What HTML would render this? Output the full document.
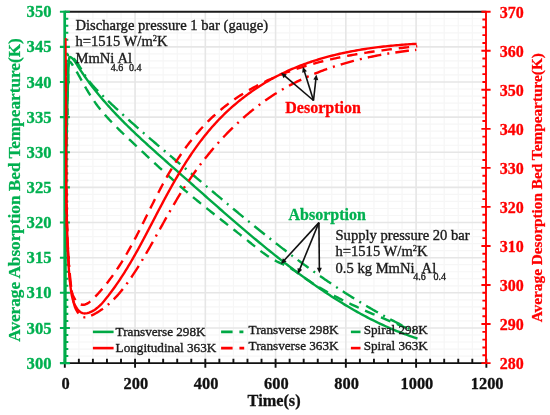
<!DOCTYPE html>
<html><head><meta charset="utf-8"><style>
html,body{margin:0;padding:0;background:#fff;}
svg{display:block;filter:blur(0.3px);}
text{font-family:"Liberation Serif",serif;}
.b{font-weight:bold;}
</style></head><body>
<svg width="550" height="415" viewBox="0 0 550 415">
<rect width="550" height="415" fill="#fff"/>
<path d="M78.85 11.7V363.1M92.9 11.7V363.1M106.96 11.7V363.1M121.01 11.7V363.1M149.11 11.7V363.1M163.16 11.7V363.1M177.22 11.7V363.1M191.27 11.7V363.1M219.37 11.7V363.1M233.42 11.7V363.1M247.48 11.7V363.1M261.53 11.7V363.1M289.63 11.7V363.1M303.68 11.7V363.1M317.74 11.7V363.1M331.79 11.7V363.1M359.89 11.7V363.1M373.94 11.7V363.1M388 11.7V363.1M402.05 11.7V363.1M430.15 11.7V363.1M444.2 11.7V363.1M458.26 11.7V363.1M472.31 11.7V363.1M64.8 356.07H486.36M64.8 349.04H486.36M64.8 342.02H486.36M64.8 334.99H486.36M64.8 320.93H486.36M64.8 313.9H486.36M64.8 306.88H486.36M64.8 299.85H486.36M64.8 285.79H486.36M64.8 278.76H486.36M64.8 271.74H486.36M64.8 264.71H486.36M64.8 250.65H486.36M64.8 243.62H486.36M64.8 236.6H486.36M64.8 229.57H486.36M64.8 215.51H486.36M64.8 208.48H486.36M64.8 201.46H486.36M64.8 194.43H486.36M64.8 180.37H486.36M64.8 173.34H486.36M64.8 166.32H486.36M64.8 159.29H486.36M64.8 145.23H486.36M64.8 138.2H486.36M64.8 131.18H486.36M64.8 124.15H486.36M64.8 110.09H486.36M64.8 103.06H486.36M64.8 96.04H486.36M64.8 89.01H486.36M64.8 74.95H486.36M64.8 67.92H486.36M64.8 60.9H486.36M64.8 53.87H486.36M64.8 39.81H486.36M64.8 32.78H486.36M64.8 25.76H486.36M64.8 18.73H486.36" stroke="#f6f6f6" stroke-width="1.2" fill="none"/>
<path d="M135.06 11.7V363.1M205.32 11.7V363.1M275.58 11.7V363.1M345.84 11.7V363.1M416.1 11.7V363.1M64.8 327.96H486.36M64.8 292.82H486.36M64.8 257.68H486.36M64.8 222.54H486.36M64.8 187.4H486.36M64.8 152.26H486.36M64.8 117.12H486.36M64.8 81.98H486.36M64.8 46.84H486.36" stroke="#e6e6e6" stroke-width="1.6" fill="none"/>
<path d="M64.8 11.7H486.36" stroke="#1a1a1a" stroke-width="2.1"/>
<path d="M64.3 363.1H486.86M64.8 358.8V367.8M78.85 358.8V363.1M92.9 358.8V363.1M106.96 358.8V363.1M121.01 358.8V363.1M135.06 358.8V367.8M149.11 358.8V363.1M163.16 358.8V363.1M177.22 358.8V363.1M191.27 358.8V363.1M205.32 358.8V367.8M219.37 358.8V363.1M233.42 358.8V363.1M247.48 358.8V363.1M261.53 358.8V363.1M275.58 358.8V367.8M289.63 358.8V363.1M303.68 358.8V363.1M317.74 358.8V363.1M331.79 358.8V363.1M345.84 358.8V367.8M359.89 358.8V363.1M373.94 358.8V363.1M388 358.8V363.1M402.05 358.8V363.1M416.1 358.8V367.8M430.15 358.8V363.1M444.2 358.8V363.1M458.26 358.8V363.1M472.31 358.8V363.1M486.36 358.8V367.8" stroke="#111" stroke-width="1.9" fill="none"/>
<path d="M64.7 10.7V364.1" stroke="#00b050" stroke-width="2.7" fill="none"/>
<path d="M59.9 363.1H69.9M64.7 356.07H68.3M64.7 349.04H68.3M64.7 342.02H68.3M64.7 334.99H68.3M59.9 327.96H69.9M64.7 320.93H68.3M64.7 313.9H68.3M64.7 306.88H68.3M64.7 299.85H68.3M59.9 292.82H69.9M64.7 285.79H68.3M64.7 278.76H68.3M64.7 271.74H68.3M64.7 264.71H68.3M59.9 257.68H69.9M64.7 250.65H68.3M64.7 243.62H68.3M64.7 236.6H68.3M64.7 229.57H68.3M59.9 222.54H69.9M64.7 215.51H68.3M64.7 208.48H68.3M64.7 201.46H68.3M64.7 194.43H68.3M59.9 187.4H69.9M64.7 180.37H68.3M64.7 173.34H68.3M64.7 166.32H68.3M64.7 159.29H68.3M59.9 152.26H69.9M64.7 145.23H68.3M64.7 138.2H68.3M64.7 131.18H68.3M64.7 124.15H68.3M59.9 117.12H69.9M64.7 110.09H68.3M64.7 103.06H68.3M64.7 96.04H68.3M64.7 89.01H68.3M59.9 81.98H69.9M64.7 74.95H68.3M64.7 67.92H68.3M64.7 60.9H68.3M64.7 53.87H68.3M59.9 46.84H69.9M64.7 39.81H68.3M64.7 32.78H68.3M64.7 25.76H68.3M64.7 18.73H68.3M59.9 11.7H69.9" stroke="#00b050" stroke-width="2.1" fill="none"/>
<path d="M486 10.7V364.1M481.4 363.1H490.6M481.4 324.06H490.6M481.4 285.01H490.6M481.4 245.97H490.6M481.4 206.92H490.6M481.4 167.88H490.6M481.4 128.83H490.6M481.4 89.79H490.6M481.4 50.74H490.6M481.4 11.7H490.6" stroke="#ff0000" stroke-width="1.9" fill="none"/>
<path d="M482.4 355.29H486M482.4 347.48H486M482.4 339.67H486M482.4 331.86H486M482.4 316.25H486M482.4 308.44H486M482.4 300.63H486M482.4 292.82H486M482.4 277.2H486M482.4 269.39H486M482.4 261.58H486M482.4 253.78H486M482.4 238.16H486M482.4 230.35H486M482.4 222.54H486M482.4 214.73H486M482.4 199.11H486M482.4 191.3H486M482.4 183.5H486M482.4 175.69H486M482.4 160.07H486M482.4 152.26H486M482.4 144.45H486M482.4 136.64H486M482.4 121.02H486M482.4 113.22H486M482.4 105.41H486M482.4 97.6H486M482.4 81.98H486M482.4 74.17H486M482.4 66.36H486M482.4 58.55H486M482.4 42.94H486M482.4 35.13H486M482.4 27.32H486M482.4 19.51H486" stroke="#ff0000" stroke-width="1.9" fill="none"/>
<clipPath id="pc"><rect x="64.8" y="11.7" width="421.56" height="351.4"/></clipPath>
<g clip-path="url(#pc)">
<path d="M66.73 85.05L66.95 84.99L67.12 84.69L67.24 84.16L67.31 83.42L67.34 82.5L67.34 81.41L67.31 80.17L67.25 78.81L67.18 77.34L67.1 75.78L67.01 74.15L66.92 72.47L66.84 70.77L66.76 69.05L66.7 67.35L66.67 65.67L66.66 64.05L66.68 62.5L66.74 61.03L66.85 59.67L67 58.45L67.21 57.37L67.48 56.46L67.82 55.73L68.23 55.22L68.71 54.93L69.28 54.89L69.92 55.07L70.63 55.46L71.38 56.03L72.16 56.74L72.97 57.56L73.78 58.46L74.58 59.42L75.36 60.4L76.12 61.4L76.86 62.41L77.57 63.43L78.27 64.46L78.95 65.49L79.62 66.53L80.27 67.58L80.92 68.63L81.57 69.67L82.2 70.72L82.84 71.77L83.48 72.81L84.12 73.84L84.76 74.87L85.42 75.89L86.08 76.91L86.75 77.91L87.44 78.89L88.15 79.87L88.87 80.83L89.61 81.77L90.36 82.71L91.12 83.63L91.9 84.54L92.69 85.44L93.49 86.33L94.3 87.22L95.11 88.09L95.94 88.96L96.77 89.83L97.61 90.68L98.46 91.53L99.31 92.38L100.16 93.22L101.02 94.06L101.88 94.9L102.74 95.74L103.6 96.57L104.46 97.41L105.32 98.24L106.19 99.07L107.05 99.9L107.92 100.72L108.79 101.55L109.66 102.38L110.53 103.2L111.4 104.02L112.27 104.84L113.15 105.66L114.02 106.48L114.9 107.29L115.78 108.11L116.65 108.92L117.53 109.74L118.41 110.55L119.29 111.36L120.18 112.17L121.06 112.97L121.94 113.78L122.83 114.59L123.72 115.39L124.6 116.2L125.49 117L126.38 117.8L127.27 118.6L128.16 119.4L129.05 120.2L129.94 120.99L130.84 121.79L131.73 122.59L132.63 123.38L133.52 124.17L134.42 124.97L135.31 125.76L136.21 126.55L137.11 127.34L138.01 128.13L138.91 128.92L139.81 129.7L140.71 130.49L141.61 131.28L142.52 132.06L143.42 132.85L144.32 133.63L145.23 134.41L146.13 135.2L147.04 135.98L147.94 136.76L148.85 137.54L149.76 138.32L150.67 139.1L151.57 139.88L152.48 140.66L153.39 141.44L154.3 142.22L155.21 142.99L156.12 143.77L157.03 144.55L157.94 145.32L158.86 146.1L159.77 146.87L160.68 147.65L161.59 148.42L162.51 149.2L163.42 149.97L164.33 150.75L165.25 151.52L166.16 152.29L167.08 153.07L167.99 153.84L168.91 154.61L169.82 155.38L170.74 156.16L171.65 156.93L172.57 157.7L173.48 158.47L174.4 159.25L175.32 160.02L176.23 160.79L177.15 161.56L178.06 162.33L178.98 163.11L179.9 163.88L180.81 164.65L181.73 165.42L182.65 166.2L183.56 166.97L184.48 167.74L185.4 168.51L186.32 169.29L187.23 170.06L188.15 170.83L189.07 171.61L189.98 172.38L190.9 173.16L191.81 173.93L192.73 174.7L193.65 175.48L194.56 176.25L195.48 177.03L196.4 177.8L197.32 178.58L198.23 179.35L199.15 180.13L200.07 180.9L200.98 181.67L201.9 182.45L202.82 183.22L203.73 184L204.65 184.77L205.57 185.55L206.49 186.32L207.4 187.1L208.32 187.87L209.24 188.65L210.16 189.42L211.08 190.19L211.99 190.97L212.91 191.74L213.83 192.51L214.75 193.29L215.67 194.06L216.59 194.83L217.51 195.61L218.43 196.38L219.35 197.15L220.27 197.92L221.19 198.7L222.11 199.47L223.03 200.24L223.95 201.01L224.87 201.78L225.79 202.55L226.72 203.32L227.64 204.09L228.56 204.86L229.48 205.63L230.4 206.4L231.33 207.17L232.25 207.94L233.18 208.71L234.1 209.47L235.02 210.24L235.95 211.01L236.87 211.78L237.8 212.54L238.72 213.31L239.65 214.07L240.58 214.84L241.5 215.6L242.43 216.36L243.36 217.13L244.29 217.89L245.21 218.65L246.14 219.41L247.07 220.17L248 220.93L248.93 221.69L249.86 222.45L250.79 223.21L251.73 223.97L252.66 224.73L253.59 225.48L254.52 226.24L255.45 227L256.39 227.75L257.32 228.51L258.26 229.26L259.19 230.01L260.13 230.76L261.06 231.52L262 232.27L262.94 233.02L263.88 233.76L264.81 234.51L265.75 235.26L266.69 236.01L267.63 236.75L268.57 237.5L269.51 238.24L270.45 238.99L271.4 239.73L272.34 240.47L273.28 241.21L274.23 241.95L275.17 242.69L276.12 243.43L277.06 244.17L278.01 244.91L278.96 245.64L279.9 246.38L280.85 247.11L281.8 247.84L282.75 248.58L283.7 249.31L284.65 250.04L285.6 250.77L286.56 251.49L287.51 252.22L288.46 252.95L289.42 253.67L290.37 254.39L291.33 255.12L292.29 255.84L293.24 256.56L294.2 257.28L295.16 258L296.12 258.71L297.08 259.43L298.04 260.15L299.01 260.86L299.97 261.57L300.93 262.28L301.9 262.99L302.86 263.7L303.83 264.41L304.79 265.12L305.76 265.82L306.73 266.53L307.7 267.23L308.67 267.93L309.64 268.63L310.61 269.33L311.59 270.03L312.56 270.72L313.54 271.42L314.51 272.11L315.49 272.8L316.46 273.49L317.44 274.18L318.42 274.87L319.4 275.56L320.38 276.24L321.37 276.93L322.35 277.61L323.33 278.29L324.32 278.97L325.3 279.65L326.29 280.33L327.28 281L328.27 281.68L329.26 282.35L330.25 283.02L331.24 283.69L332.23 284.36L333.22 285.02L334.22 285.69L335.22 286.35L336.21 287.01L337.21 287.67L338.21 288.33L339.21 288.99L340.21 289.64L341.21 290.29L342.22 290.95L343.22 291.6L344.22 292.24L345.23 292.89L346.24 293.54L347.25 294.18L348.26 294.82L349.27 295.46L350.28 296.1L351.29 296.74L352.31 297.37L353.32 298L354.34 298.63L355.36 299.26L356.38 299.89L357.4 300.52L358.42 301.14L359.44 301.76L360.47 302.38L361.49 303L362.52 303.62L363.54 304.23L364.57 304.84L365.6 305.45L366.63 306.06L367.67 306.67L368.7 307.27L369.73 307.88L370.77 308.48L371.81 309.08L372.85 309.67L373.89 310.27L374.93 310.86L375.97 311.45L377.02 312.04L378.06 312.63L379.11 313.21L380.16 313.8L381.2 314.38L382.26 314.96L383.31 315.53L384.36 316.11L385.42 316.68L386.47 317.25L387.53 317.82L388.59 318.38L389.65 318.95L390.71 319.51L391.77 320.07L392.84 320.63L393.9 321.18L394.97 321.73L396.04 322.28L397.11 322.83L398.18 323.38L399.25 323.92L400.33 324.46L401.4 325L402.48 325.54L403.56 326.07L404.64 326.61L405.72 327.14L406.81 327.66L407.89 328.19L408.98 328.71L410.07 329.23L411.15 329.75L412.25 330.27L413.34 330.78L414.43 331.29" stroke="#00a844" stroke-width="2.4" fill="none" stroke-dasharray="13.5 6 2 6" stroke-dashoffset="17.81" stroke-linejoin="round"/>
<path d="M67.6 115L67.52 113.16L67.46 111.41L67.41 109.76L67.38 108.19L67.35 106.7L67.34 105.28L67.34 103.94L67.35 102.65L67.37 101.42L67.4 100.24L67.43 99.1L67.47 98L67.51 96.94L67.56 95.9L67.62 94.89L67.67 93.89L67.73 92.9L67.79 91.92L67.85 90.94L67.91 89.94L67.96 88.94L68.01 87.92L68.06 86.87L68.11 85.79L68.15 84.68L68.18 83.53L68.21 82.33L68.23 81.08L68.24 79.77L68.24 78.39L68.23 76.94L68.21 75.42L68.18 73.82L68.14 72.15L68.11 70.45L68.11 68.78L68.16 67.19L68.27 65.72L68.47 64.42L68.77 63.34L69.18 62.54L69.67 62.09L70.22 62.05L70.83 62.48L71.46 63.31L72.09 64.26L72.72 65.23L73.35 66.21L73.97 67.21L74.59 68.22L75.21 69.24L75.82 70.27L76.43 71.31L77.04 72.36L77.65 73.42L78.26 74.48L78.87 75.56L79.48 76.64L80.09 77.73L80.7 78.82L81.31 79.92L81.93 81.02L82.54 82.12L83.16 83.22L83.78 84.33L84.41 85.44L85.04 86.55L85.67 87.65L86.31 88.76L86.95 89.86L87.6 90.96L88.26 92.06L88.92 93.15L89.59 94.24L90.26 95.32L90.94 96.39L91.63 97.46L92.33 98.52L93.04 99.57L93.76 100.61L94.48 101.65L95.22 102.67L95.96 103.69L96.71 104.7L97.46 105.71L98.23 106.7L99 107.69L99.78 108.67L100.56 109.65L101.36 110.62L102.15 111.58L102.96 112.53L103.77 113.48L104.59 114.43L105.41 115.37L106.24 116.3L107.07 117.23L107.91 118.15L108.76 119.07L109.61 119.98L110.46 120.89L111.32 121.8L112.18 122.7L113.05 123.59L113.92 124.49L114.8 125.38L115.68 126.26L116.56 127.14L117.44 128.02L118.33 128.9L119.22 129.77L120.12 130.65L121.02 131.51L121.91 132.38L122.82 133.25L123.72 134.11L124.62 134.97L125.53 135.83L126.44 136.69L127.35 137.55L128.26 138.41L129.17 139.26L130.08 140.12L130.99 140.97L131.91 141.83L132.82 142.69L133.73 143.54L134.64 144.4L135.56 145.26L136.47 146.11L137.38 146.97L138.29 147.83L139.21 148.69L140.12 149.54L141.03 150.4L141.95 151.26L142.86 152.12L143.77 152.97L144.69 153.83L145.6 154.69L146.51 155.55L147.43 156.4L148.34 157.26L149.26 158.12L150.17 158.97L151.09 159.83L152 160.68L152.92 161.54L153.84 162.39L154.76 163.25L155.67 164.1L156.59 164.95L157.51 165.8L158.43 166.66L159.35 167.51L160.27 168.36L161.2 169.21L162.12 170.05L163.04 170.9L163.97 171.75L164.89 172.59L165.82 173.44L166.75 174.28L167.67 175.12L168.6 175.96L169.53 176.8L170.46 177.64L171.4 178.48L172.33 179.31L173.26 180.15L174.2 180.98L175.14 181.81L176.07 182.64L177.01 183.47L177.95 184.3L178.89 185.12L179.84 185.94L180.78 186.77L181.73 187.59L182.67 188.41L183.62 189.22L184.57 190.04L185.52 190.85L186.47 191.66L187.43 192.47L188.38 193.28L189.34 194.08L190.3 194.89L191.26 195.69L192.22 196.49L193.18 197.29L194.15 198.08L195.11 198.88L196.08 199.67L197.04 200.46L198.01 201.26L198.98 202.05L199.95 202.83L200.92 203.62L201.9 204.41L202.87 205.19L203.84 205.98L204.82 206.76L205.79 207.54L206.77 208.32L207.75 209.1L208.73 209.88L209.7 210.66L210.68 211.44L211.66 212.21L212.64 212.99L213.62 213.76L214.61 214.54L215.59 215.31L216.57 216.09L217.55 216.86L218.53 217.64L219.52 218.41L220.5 219.18L221.48 219.95L222.47 220.73L223.45 221.5L224.44 222.27L225.42 223.04L226.41 223.82L227.39 224.59L228.37 225.36L229.36 226.14L230.34 226.91L231.33 227.68L232.31 228.46L233.3 229.23L234.28 230L235.26 230.78L236.25 231.55L237.23 232.33L238.21 233.11L239.2 233.88L240.18 234.66L241.16 235.44L242.14 236.22L243.12 237L244.11 237.78L245.09 238.56L246.07 239.34L247.04 240.13L248.02 240.91L249 241.7L249.98 242.48L250.96 243.27L251.93 244.06L252.91 244.85L253.88 245.64L254.86 246.43L255.84 247.21L256.82 247.99L257.8 248.77L258.79 249.55L259.78 250.32L260.77 251.08L261.77 251.84L262.77 252.59L263.78 253.33L264.79 254.06L265.81 254.78L266.84 255.49L267.87 256.19L268.91 256.87L269.96 257.54L271.02 258.2L272.09 258.85L273.17 259.47L274.26 260.09L275.36 260.68L276.47 261.26L277.59 261.81L278.73 262.35L279.87 262.88L281.02 263.4L282.17 263.91L283.32 264.43L284.46 264.96L285.59 265.5L286.72 266.07L287.83 266.66L288.92 267.26L290.01 267.89L291.08 268.54L292.15 269.2L293.21 269.87L294.26 270.56L295.3 271.26L296.34 271.97L297.38 272.68L298.41 273.4L299.43 274.13L300.46 274.86L301.48 275.59L302.51 276.32L303.53 277.05L304.56 277.78L305.59 278.5L306.62 279.21L307.66 279.92L308.7 280.62L309.74 281.32L310.79 282.01L311.84 282.69L312.89 283.37L313.95 284.05L315.01 284.72L316.07 285.38L317.13 286.04L318.2 286.7L319.27 287.35L320.34 287.99L321.41 288.63L322.49 289.26L323.57 289.89L324.65 290.52L325.74 291.14L326.83 291.76L327.92 292.37L329.01 292.97L330.1 293.58L331.2 294.18L332.3 294.77L333.4 295.36L334.5 295.95L335.61 296.53L336.72 297.11L337.83 297.68L338.94 298.26L340.05 298.82L341.17 299.39L342.29 299.95L343.4 300.5L344.53 301.06L345.65 301.61L346.77 302.16L347.9 302.7L349.03 303.24L350.16 303.78L351.29 304.31L352.42 304.85L353.55 305.38L354.69 305.9L355.82 306.43L356.96 306.95L358.1 307.47L359.24 307.98L360.38 308.5L361.53 309.01L362.67 309.52L363.81 310.03L364.96 310.53L366.11 311.04L367.25 311.54L368.4 312.04L369.55 312.54L370.7 313.03L371.85 313.53L373.01 314.02L374.16 314.51L375.31 315L376.47 315.49L377.62 315.98L378.77 316.47L379.93 316.95L381.09 317.43L382.24 317.92L383.4 318.4L384.55 318.88L385.71 319.36L386.87 319.84L388.03 320.32L389.18 320.8L390.34 321.28L391.5 321.76L392.66 322.23L393.81 322.71L394.97 323.19L396.13 323.67L397.29 324.14L398.44 324.62L399.6 325.1L400.76 325.57L401.91 326.05L403.07 326.53L404.22 327.01L405.38 327.48L406.53 327.96L407.69 328.44L408.84 328.92L409.99 329.4L411.14 329.89L412.3 330.37L413.45 330.85L414.6 331.34" stroke="#00a844" stroke-width="2.4" fill="none" stroke-dasharray="10.35 6.9" stroke-dashoffset="3.67" stroke-linejoin="round"/>
<path d="M65.21 372.01L65.22 370.08L65.23 368.15L65.24 366.22L65.25 364.29L65.26 362.37L65.27 360.44L65.28 358.51L65.29 356.58L65.3 354.65L65.31 352.72L65.31 350.8L65.32 348.87L65.33 346.94L65.34 345.01L65.35 343.08L65.35 341.16L65.36 339.23L65.37 337.3L65.37 335.37L65.38 333.45L65.39 331.52L65.39 329.59L65.4 327.66L65.4 325.74L65.41 323.81L65.41 321.88L65.42 319.95L65.43 318.03L65.43 316.1L65.44 314.17L65.44 312.25L65.45 310.32L65.45 308.39L65.46 306.46L65.46 304.54L65.47 302.61L65.47 300.68L65.48 298.76L65.48 296.83L65.49 294.9L65.49 292.98L65.5 291.05L65.5 289.12L65.51 287.2L65.51 285.27L65.52 283.34L65.52 281.42L65.53 279.49L65.53 277.56L65.54 275.64L65.54 273.71L65.55 271.78L65.56 269.86L65.56 267.93L65.57 266L65.57 264.08L65.58 262.15L65.59 260.22L65.59 258.3L65.6 256.37L65.61 254.45L65.61 252.52L65.62 250.59L65.63 248.67L65.64 246.74L65.64 244.81L65.65 242.89L65.66 240.96L65.67 239.03L65.68 237.11L65.69 235.18L65.7 233.26L65.71 231.33L65.72 229.4L65.73 227.48L65.74 225.55L65.75 223.62L65.76 221.7L65.77 219.77L65.78 217.84L65.8 215.92L65.81 213.99L65.82 212.07L65.84 210.14L65.85 208.21L65.86 206.29L65.88 204.36L65.89 202.43L65.91 200.51L65.92 198.58L65.94 196.65L65.96 194.73L65.97 192.8L65.99 190.87L66.01 188.95L66.03 187.02L66.05 185.09L66.07 183.17L66.09 181.24L66.11 179.31L66.13 177.39L66.15 175.46L66.17 173.53L66.2 171.61L66.22 169.68L66.24 167.75L66.27 165.82L66.29 163.9L66.32 161.97L66.34 160.04L66.37 158.12L66.4 156.19L66.43 154.26L66.45 152.33L66.48 150.41L66.51 148.48L66.54 146.55L66.58 144.62L66.61 142.7L66.64 140.77L66.67 138.84L66.71 136.91L66.74 134.99L66.78 133.06L66.81 131.13L66.85 129.2L66.89 127.28L66.92 125.35L66.96 123.42L67 121.49L67.04 119.56L67.09 117.63L67.13 115.71L67.17 113.78L67.21 111.85L67.26 109.92L67.3 107.99L67.35 106.06L67.4 104.14L67.44 102.21L67.49 100.28L67.54 98.35L67.59 96.42L67.64 94.49L67.7 92.56L67.75 90.63L67.8 88.7L67.86 86.77L67.91 84.84L67.97 82.91L68.03 80.99L68.09 79.06L68.15 77.13L68.21 75.2L68.28 73.27L68.35 71.34L68.43 69.4L68.52 67.47L68.62 65.54L68.73 63.61L68.85 61.67L68.98 59.74L69.18 57.9L69.84 56.96L71.1 57.37L72.38 58.36L73.63 59.74L74.83 61.38L76 63.17L77.13 64.99L78.24 66.74L79.32 68.43L80.39 70.06L81.46 71.68L82.54 73.28L83.63 74.87L84.73 76.45L85.84 78.03L86.97 79.59L88.1 81.15L89.24 82.69L90.4 84.23L91.56 85.76L92.73 87.29L93.91 88.8L95.1 90.31L96.3 91.8L97.51 93.29L98.73 94.78L99.95 96.25L101.19 97.72L102.43 99.18L103.68 100.63L104.94 102.08L106.2 103.52L107.48 104.95L108.76 106.38L110.05 107.8L111.34 109.21L112.64 110.62L113.95 112.02L115.27 113.42L116.59 114.81L117.92 116.2L119.25 117.58L120.59 118.95L121.94 120.32L123.29 121.68L124.65 123.04L126.01 124.4L127.38 125.75L128.75 127.1L130.13 128.44L131.51 129.77L132.9 131.11L134.29 132.44L135.68 133.76L137.08 135.09L138.49 136.4L139.89 137.72L141.3 139.03L142.72 140.34L144.13 141.65L145.56 142.95L146.98 144.25L148.4 145.55L149.83 146.85L151.26 148.14L152.7 149.43L154.13 150.72L155.57 152.01L157.01 153.3L158.45 154.58L159.9 155.86L161.34 157.15L162.78 158.43L164.23 159.71L165.68 160.99L167.13 162.26L168.57 163.54L170.02 164.82L171.47 166.1L172.92 167.37L174.37 168.65L175.82 169.93L177.27 171.2L178.72 172.48L180.16 173.76L181.61 175.04L183.06 176.32L184.5 177.59L185.95 178.87L187.39 180.15L188.84 181.43L190.28 182.71L191.73 183.99L193.17 185.27L194.62 186.55L196.06 187.83L197.5 189.11L198.95 190.38L200.39 191.66L201.84 192.94L203.28 194.22L204.73 195.5L206.17 196.77L207.62 198.05L209.06 199.32L210.51 200.6L211.95 201.87L213.4 203.15L214.85 204.42L216.29 205.69L217.74 206.96L219.19 208.23L220.64 209.5L222.09 210.77L223.54 212.04L224.99 213.3L226.45 214.57L227.9 215.83L229.35 217.09L230.81 218.35L232.26 219.61L233.72 220.87L235.18 222.13L236.64 223.38L238.1 224.64L239.56 225.89L241.03 227.14L242.49 228.39L243.96 229.63L245.42 230.88L246.89 232.12L248.36 233.36L249.84 234.6L251.31 235.84L252.78 237.08L254.26 238.31L255.74 239.54L257.22 240.77L258.7 242L260.19 243.22L261.67 244.45L263.16 245.67L264.65 246.88L266.14 248.1L267.63 249.31L269.13 250.52L270.63 251.73L272.13 252.93L273.63 254.13L275.14 255.33L276.64 256.53L278.15 257.72L279.66 258.92L281.18 260.1L282.7 261.29L284.21 262.47L285.74 263.65L287.26 264.82L288.79 266L290.32 267.17L291.85 268.33L293.39 269.49L294.93 270.65L296.47 271.81L298.01 272.96L299.56 274.11L301.11 275.26L302.66 276.4L304.22 277.53L305.78 278.67L307.34 279.8L308.91 280.92L310.48 282.04L312.05 283.16L313.62 284.27L315.2 285.38L316.78 286.48L318.37 287.58L319.96 288.67L321.55 289.76L323.15 290.84L324.75 291.91L326.35 292.98L327.96 294.05L329.57 295.11L331.19 296.16L332.8 297.21L334.43 298.25L336.05 299.28L337.68 300.31L339.32 301.33L340.95 302.35L342.59 303.35L344.24 304.35L345.89 305.35L347.54 306.34L349.2 307.31L350.86 308.29L352.53 309.25L354.2 310.21L355.88 311.16L357.55 312.1L359.24 313.03L360.93 313.96L362.62 314.87L364.32 315.78L366.02 316.68L367.72 317.57L369.43 318.45L371.15 319.33L372.87 320.19L374.59 321.05L376.32 321.89L378.05 322.73L379.79 323.56L381.54 324.37L383.28 325.18L385.04 325.98L386.8 326.77L388.56 327.55L390.33 328.31L392.1 329.07L393.88 329.82L395.66 330.55L397.45 331.28L399.24 331.99L401.04 332.7L402.85 333.39L404.66 334.07L406.47 334.74L408.29 335.4L410.12 336.05L411.95 336.68L413.78 337.31L415.62 337.92L417.47 338.52" stroke="#00a844" stroke-width="2.4" fill="none" stroke-linejoin="round"/>
<path d="M65.39 60.08L65.44 61.85L65.5 63.61L65.54 65.38L65.59 67.15L65.64 68.92L65.68 70.69L65.72 72.46L65.76 74.23L65.79 76L65.82 77.77L65.85 79.55L65.88 81.32L65.91 83.09L65.94 84.87L65.96 86.65L65.98 88.42L66 90.2L66.02 91.98L66.04 93.76L66.05 95.54L66.06 97.32L66.08 99.1L66.09 100.88L66.1 102.66L66.1 104.44L66.11 106.22L66.12 108.01L66.12 109.79L66.12 111.57L66.13 113.36L66.13 115.14L66.13 116.93L66.13 118.71L66.13 120.5L66.13 122.29L66.13 124.07L66.12 125.86L66.12 127.65L66.12 129.43L66.11 131.22L66.11 133.01L66.1 134.8L66.1 136.59L66.09 138.38L66.09 140.16L66.08 141.95L66.08 143.74L66.08 145.53L66.07 147.32L66.07 149.11L66.06 150.9L66.06 152.69L66.05 154.48L66.05 156.27L66.05 158.06L66.05 159.85L66.05 161.64L66.05 163.43L66.05 165.22L66.05 167.01L66.05 168.8L66.05 170.59L66.05 172.38L66.06 174.17L66.06 175.96L66.07 177.74L66.08 179.53L66.09 181.32L66.1 183.11L66.11 184.9L66.13 186.69L66.14 188.47L66.16 190.26L66.17 192.05L66.19 193.83L66.22 195.62L66.24 197.41L66.27 199.19L66.29 200.98L66.32 202.76L66.35 204.55L66.39 206.33L66.42 208.11L66.46 209.9L66.5 211.68L66.54 213.46L66.59 215.24L66.63 217.02L66.68 218.8L66.73 220.58L66.79 222.36L66.85 224.14L66.91 225.92L66.97 227.69L67.04 229.47L67.1 231.25L67.18 233.02L67.25 234.8L67.33 236.57L67.41 238.34L67.49 240.11L67.58 241.89L67.67 243.66L67.77 245.43L67.86 247.2L67.97 248.96L68.07 250.73L68.18 252.5L68.29 254.26L68.41 256.03L68.53 257.79L68.65 259.55L68.78 261.31L68.91 263.08L69.04 264.84L69.18 266.59L69.33 268.35L69.47 270.11L69.63 271.86L69.78 273.62L69.94 275.37L70.11 277.12L70.28 278.88L70.45 280.63L70.64 282.39L70.83 284.15L71.04 285.92L71.25 287.71L71.48 289.51L71.72 291.32L71.98 293.15L72.26 295L72.56 296.88L72.88 298.77L73.25 300.66L73.67 302.54L74.16 304.39L74.72 306.21L75.38 307.97L76.15 309.67L77.03 311.3L78.04 312.83L79.18 314.23L80.44 315.45L81.8 316.41L83.24 317.07L84.76 317.35L86.33 317.24L87.93 316.84L89.54 316.25L91.14 315.57L92.71 314.84L94.26 314.07L95.79 313.26L97.29 312.41L98.77 311.52L100.22 310.59L101.66 309.62L103.07 308.62L104.46 307.59L105.83 306.52L107.18 305.42L108.5 304.28L109.81 303.12L111.1 301.93L112.37 300.71L113.63 299.47L114.86 298.2L116.08 296.91L117.28 295.59L118.47 294.25L119.64 292.89L120.79 291.52L121.93 290.12L123.05 288.71L124.16 287.28L125.26 285.84L126.34 284.39L127.41 282.92L128.47 281.44L129.52 279.95L130.55 278.46L131.58 276.95L132.59 275.44L133.59 273.93L134.59 272.41L135.57 270.88L136.55 269.36L137.51 267.83L138.47 266.3L139.42 264.77L140.37 263.24L141.3 261.7L142.23 260.16L143.16 258.62L144.07 257.08L144.98 255.54L145.89 254L146.79 252.45L147.68 250.91L148.57 249.36L149.46 247.81L150.34 246.26L151.22 244.72L152.09 243.17L152.96 241.62L153.83 240.06L154.7 238.51L155.56 236.96L156.42 235.41L157.28 233.86L158.14 232.31L159 230.76L159.86 229.21L160.72 227.66L161.58 226.11L162.44 224.56L163.3 223.02L164.16 221.47L165.02 219.93L165.88 218.38L166.75 216.84L167.62 215.3L168.49 213.76L169.36 212.23L170.24 210.69L171.12 209.16L172 207.62L172.89 206.1L173.79 204.57L174.68 203.04L175.59 201.52L176.5 200L177.41 198.48L178.33 196.97L179.26 195.46L180.2 193.95L181.14 192.45L182.09 190.94L183.04 189.45L184.01 187.95L184.97 186.46L185.95 184.97L186.93 183.49L187.92 182.01L188.92 180.53L189.93 179.06L190.94 177.59L191.96 176.13L192.98 174.67L194.01 173.22L195.05 171.77L196.1 170.32L197.15 168.88L198.21 167.45L199.28 166.01L200.35 164.59L201.43 163.17L202.52 161.75L203.62 160.34L204.72 158.94L205.83 157.54L206.95 156.15L208.07 154.76L209.2 153.38L210.34 152.01L211.48 150.64L212.63 149.27L213.79 147.92L214.96 146.57L216.13 145.22L217.31 143.89L218.5 142.56L219.69 141.23L220.9 139.92L222.1 138.61L223.32 137.3L224.54 136.01L225.77 134.72L227.01 133.44L228.25 132.17L229.51 130.9L230.76 129.65L232.03 128.4L233.3 127.15L234.58 125.92L235.87 124.7L237.17 123.48L238.47 122.27L239.78 121.07L241.09 119.88L242.42 118.69L243.75 117.52L245.08 116.35L246.43 115.2L247.78 114.05L249.14 112.91L250.51 111.78L251.88 110.66L253.26 109.55L254.65 108.45L256.05 107.36L257.45 106.28L258.86 105.2L260.28 104.14L261.7 103.09L263.13 102.05L264.57 101.02L266.02 100L267.47 98.99L268.93 97.99L270.4 97L271.88 96.02L273.36 95.05L274.85 94.1L276.35 93.15L277.85 92.22L279.37 91.29L280.89 90.38L282.41 89.48L283.95 88.59L285.49 87.72L287.04 86.85L288.59 86L290.16 85.16L291.72 84.32L293.3 83.5L294.88 82.7L296.47 81.9L298.07 81.11L299.67 80.34L301.28 79.57L302.89 78.82L304.51 78.07L306.13 77.34L307.76 76.62L309.4 75.91L311.04 75.21L312.69 74.52L314.34 73.84L315.99 73.17L317.65 72.51L319.32 71.86L320.99 71.22L322.67 70.59L324.34 69.97L326.03 69.36L327.71 68.76L329.41 68.17L331.1 67.6L332.8 67.03L334.5 66.47L336.21 65.92L337.92 65.37L339.63 64.84L341.34 64.32L343.06 63.81L344.78 63.3L346.51 62.81L348.24 62.32L349.96 61.85L351.7 61.38L353.43 60.92L355.17 60.47L356.9 60.03L358.64 59.6L360.39 59.18L362.13 58.76L363.87 58.36L365.62 57.96L367.37 57.57L369.12 57.19L370.87 56.82L372.62 56.46L374.37 56.1L376.12 55.75L377.87 55.41L379.62 55.08L381.38 54.76L383.13 54.44L384.89 54.13L386.64 53.83L388.39 53.54L390.15 53.26L391.9 52.98L393.65 52.71L395.4 52.45L397.15 52.19L398.9 51.94L400.65 51.7L402.4 51.47L404.14 51.24L405.89 51.02L407.63 50.81L409.37 50.61L411.11 50.41L412.85 50.22L414.59 50.03L416.32 49.85" stroke="#ff0000" stroke-width="2.4" fill="none" stroke-dasharray="13.75 6.1 2.05 6.1" stroke-dashoffset="10.87" stroke-linejoin="round"/>
<path d="M65.49 59.94L65.52 61.71L65.55 63.49L65.59 65.26L65.61 67.03L65.64 68.8L65.67 70.58L65.69 72.35L65.71 74.12L65.74 75.89L65.76 77.66L65.78 79.43L65.8 81.19L65.81 82.96L65.83 84.73L65.84 86.5L65.86 88.26L65.87 90.03L65.88 91.8L65.9 93.56L65.91 95.33L65.92 97.09L65.92 98.86L65.93 100.62L65.94 102.38L65.95 104.15L65.95 105.91L65.96 107.67L65.96 109.43L65.97 111.2L65.97 112.96L65.98 114.72L65.98 116.48L65.98 118.24L65.99 120L65.99 121.76L65.99 123.52L65.99 125.28L66 127.04L66 128.8L66 130.56L66 132.32L66 134.08L66.01 135.84L66.01 137.59L66.01 139.35L66.01 141.11L66.01 142.87L66.02 144.63L66.02 146.38L66.02 148.14L66.03 149.9L66.03 151.66L66.04 153.41L66.04 155.17L66.05 156.93L66.05 158.69L66.06 160.44L66.07 162.2L66.07 163.96L66.08 165.71L66.09 167.47L66.1 169.23L66.11 170.99L66.12 172.74L66.14 174.5L66.15 176.26L66.16 178.01L66.18 179.77L66.2 181.53L66.21 183.29L66.23 185.04L66.25 186.8L66.27 188.56L66.3 190.32L66.32 192.08L66.35 193.83L66.37 195.59L66.4 197.35L66.43 199.11L66.46 200.87L66.49 202.63L66.53 204.39L66.56 206.15L66.6 207.91L66.64 209.67L66.68 211.43L66.72 213.19L66.76 214.95L66.81 216.71L66.86 218.47L66.91 220.23L66.96 222L67.01 223.76L67.07 225.52L67.12 227.28L67.18 229.05L67.24 230.81L67.31 232.58L67.37 234.34L67.44 236.11L67.51 237.87L67.59 239.64L67.66 241.4L67.74 243.17L67.82 244.94L67.9 246.7L67.99 248.47L68.07 250.24L68.16 252.01L68.26 253.78L68.35 255.55L68.45 257.32L68.55 259.09L68.66 260.86L68.76 262.63L68.87 264.41L68.99 266.18L69.1 267.95L69.22 269.73L69.34 271.5L69.47 273.28L69.59 275.05L69.72 276.83L69.86 278.61L70 280.38L70.17 282.15L70.36 283.92L70.59 285.68L70.87 287.43L71.2 289.18L71.6 290.9L72.07 292.61L72.63 294.31L73.27 295.98L74.02 297.63L74.87 299.22L75.83 300.7L76.9 302.01L78.08 303.12L79.37 303.97L80.77 304.52L82.23 304.78L83.71 304.76L85.18 304.46L86.61 303.9L88.02 303.12L89.4 302.16L90.76 301.05L92.09 299.84L93.4 298.55L94.68 297.23L95.96 295.9L97.21 294.56L98.45 293.21L99.66 291.86L100.87 290.49L102.05 289.12L103.22 287.74L104.38 286.36L105.52 284.96L106.64 283.56L107.75 282.15L108.84 280.74L109.92 279.32L110.99 277.89L112.04 276.45L113.08 275.01L114.11 273.57L115.12 272.11L116.12 270.65L117.12 269.19L118.09 267.72L119.06 266.24L120.02 264.76L120.96 263.28L121.9 261.79L122.83 260.29L123.74 258.79L124.65 257.28L125.55 255.78L126.44 254.26L127.32 252.74L128.19 251.22L129.06 249.7L129.92 248.17L130.77 246.64L131.61 245.1L132.45 243.56L133.28 242.02L134.11 240.48L134.93 238.93L135.75 237.38L136.56 235.83L137.36 234.27L138.17 232.72L138.97 231.16L139.76 229.6L140.55 228.04L141.34 226.47L142.13 224.91L142.92 223.34L143.7 221.77L144.48 220.21L145.26 218.64L146.04 217.07L146.82 215.5L147.6 213.93L148.38 212.36L149.16 210.79L149.94 209.21L150.72 207.64L151.51 206.07L152.29 204.51L153.08 202.94L153.87 201.37L154.66 199.8L155.46 198.24L156.26 196.67L157.06 195.11L157.87 193.55L158.68 191.99L159.49 190.43L160.31 188.87L161.14 187.32L161.97 185.77L162.81 184.22L163.65 182.67L164.5 181.13L165.36 179.59L166.22 178.05L167.1 176.52L167.98 174.99L168.87 173.46L169.76 171.94L170.67 170.42L171.58 168.9L172.5 167.39L173.43 165.89L174.37 164.39L175.32 162.89L176.27 161.4L177.24 159.91L178.21 158.43L179.19 156.96L180.18 155.49L181.18 154.03L182.19 152.57L183.21 151.12L184.24 149.68L185.27 148.25L186.32 146.82L187.37 145.4L188.44 143.99L189.51 142.59L190.6 141.19L191.69 139.8L192.79 138.42L193.91 137.05L195.03 135.69L196.16 134.34L197.3 133L198.46 131.67L199.62 130.34L200.79 129.03L201.98 127.73L203.17 126.44L204.37 125.16L205.59 123.89L206.81 122.63L208.05 121.38L209.3 120.14L210.55 118.92L211.82 117.7L213.1 116.5L214.39 115.32L215.69 114.14L217 112.98L218.33 111.83L219.66 110.69L221 109.57L222.36 108.45L223.72 107.35L225.1 106.27L226.48 105.19L227.88 104.13L229.28 103.08L230.69 102.04L232.12 101.02L233.55 100L234.99 99L236.44 98.01L237.9 97.04L239.36 96.07L240.84 95.12L242.32 94.18L243.81 93.25L245.31 92.33L246.82 91.43L248.33 90.53L249.85 89.65L251.38 88.78L252.92 87.92L254.46 87.07L256.01 86.24L257.56 85.41L259.12 84.6L260.69 83.8L262.26 83.01L263.84 82.23L265.43 81.46L267.02 80.7L268.62 79.96L270.22 79.22L271.82 78.5L273.43 77.79L275.05 77.08L276.67 76.39L278.3 75.71L279.92 75.04L281.56 74.39L283.19 73.74L284.84 73.1L286.48 72.47L288.13 71.86L289.78 71.25L291.43 70.65L293.09 70.07L294.75 69.49L296.42 68.93L298.09 68.37L299.76 67.82L301.44 67.28L303.11 66.75L304.79 66.23L306.48 65.72L308.17 65.22L309.85 64.73L311.55 64.24L313.24 63.77L314.94 63.3L316.64 62.84L318.34 62.39L320.05 61.95L321.75 61.51L323.46 61.09L325.18 60.67L326.89 60.25L328.61 59.85L330.32 59.45L332.04 59.06L333.76 58.68L335.49 58.3L337.21 57.93L338.94 57.57L340.67 57.21L342.4 56.86L344.13 56.52L345.86 56.18L347.6 55.85L349.33 55.53L351.07 55.21L352.81 54.9L354.54 54.59L356.28 54.29L358.02 53.99L359.77 53.7L361.51 53.41L363.25 53.13L365 52.85L366.74 52.58L368.48 52.31L370.23 52.05L371.97 51.79L373.72 51.54L375.47 51.29L377.21 51.04L378.96 50.8L380.71 50.56L382.45 50.33L384.2 50.1L385.95 49.87L387.69 49.64L389.44 49.42L391.18 49.21L392.93 48.99L394.67 48.78L396.42 48.57L398.16 48.36L399.9 48.16L401.64 47.96L403.38 47.76L405.12 47.56L406.86 47.36L408.6 47.17L410.34 46.98L412.07 46.78L413.81 46.6L415.54 46.41L417.27 46.22" stroke="#ff0000" stroke-width="2.4" fill="none" stroke-dasharray="10.44 6.96" stroke-dashoffset="12.72" stroke-linejoin="round"/>
<path d="M65.43 38.07L65.45 39.9L65.47 41.74L65.48 43.58L65.5 45.42L65.51 47.26L65.53 49.1L65.54 50.94L65.56 52.79L65.57 54.63L65.58 56.47L65.6 58.32L65.61 60.16L65.62 62.01L65.63 63.85L65.64 65.7L65.65 67.55L65.66 69.39L65.67 71.24L65.68 73.09L65.68 74.94L65.69 76.79L65.7 78.64L65.71 80.49L65.71 82.34L65.72 84.19L65.73 86.04L65.73 87.89L65.74 89.74L65.74 91.6L65.75 93.45L65.76 95.3L65.76 97.16L65.77 99.01L65.77 100.86L65.78 102.72L65.78 104.57L65.79 106.43L65.79 108.28L65.8 110.14L65.8 111.99L65.81 113.85L65.81 115.7L65.82 117.56L65.83 119.41L65.83 121.27L65.84 123.12L65.84 124.98L65.85 126.84L65.86 128.69L65.86 130.55L65.87 132.41L65.88 134.26L65.89 136.12L65.89 137.98L65.9 139.83L65.91 141.69L65.92 143.54L65.93 145.4L65.94 147.26L65.95 149.11L65.96 150.97L65.97 152.83L65.98 154.68L66 156.54L66.01 158.39L66.02 160.25L66.04 162.1L66.05 163.96L66.07 165.81L66.08 167.67L66.1 169.52L66.12 171.37L66.13 173.23L66.15 175.08L66.17 176.94L66.19 178.79L66.21 180.64L66.23 182.49L66.26 184.34L66.28 186.2L66.3 188.05L66.33 189.9L66.36 191.75L66.38 193.6L66.41 195.45L66.44 197.3L66.47 199.15L66.5 200.99L66.53 202.84L66.57 204.69L66.6 206.54L66.63 208.38L66.67 210.23L66.71 212.07L66.75 213.92L66.79 215.76L66.83 217.6L66.87 219.45L66.91 221.29L66.96 223.13L67 224.97L67.05 226.81L67.1 228.65L67.15 230.49L67.2 232.33L67.25 234.16L67.3 236L67.36 237.84L67.41 239.67L67.47 241.51L67.53 243.34L67.6 245.18L67.66 247.01L67.73 248.85L67.81 250.68L67.89 252.52L67.97 254.36L68.06 256.2L68.15 258.04L68.25 259.88L68.35 261.72L68.46 263.57L68.58 265.42L68.71 267.27L68.84 269.13L68.98 270.98L69.13 272.85L69.29 274.71L69.46 276.58L69.63 278.45L69.82 280.33L70.01 282.21L70.22 284.09L70.44 285.98L70.67 287.88L70.91 289.77L71.18 291.67L71.48 293.55L71.83 295.42L72.23 297.27L72.69 299.09L73.23 300.87L73.84 302.62L74.55 304.31L75.36 305.96L76.27 307.55L77.3 309.04L78.44 310.4L79.69 311.57L81.05 312.5L82.51 313.13L84.08 313.43L85.73 313.41L87.42 313.12L89.13 312.6L90.81 311.91L92.44 311.1L94.01 310.18L95.52 309.17L96.98 308.07L98.39 306.89L99.76 305.63L101.09 304.32L102.38 302.95L103.64 301.54L104.87 300.09L106.07 298.61L107.26 297.12L108.42 295.61L109.58 294.1L110.72 292.58L111.84 291.06L112.96 289.54L114.06 288.01L115.15 286.48L116.22 284.94L117.29 283.4L118.34 281.86L119.38 280.31L120.41 278.76L121.43 277.2L122.45 275.65L123.45 274.09L124.44 272.52L125.42 270.95L126.39 269.38L127.36 267.81L128.31 266.23L129.26 264.65L130.2 263.07L131.14 261.49L132.06 259.9L132.98 258.31L133.9 256.71L134.8 255.12L135.71 253.52L136.6 251.92L137.49 250.31L138.38 248.71L139.26 247.1L140.14 245.49L141.01 243.88L141.88 242.26L142.75 240.64L143.61 239.03L144.47 237.4L145.33 235.78L146.19 234.16L147.04 232.53L147.9 230.9L148.75 229.28L149.6 227.64L150.45 226.01L151.3 224.38L152.16 222.74L153.01 221.11L153.86 219.47L154.71 217.83L155.57 216.19L156.42 214.55L157.28 212.91L158.14 211.27L159 209.63L159.87 207.99L160.74 206.35L161.6 204.7L162.48 203.06L163.35 201.42L164.23 199.78L165.11 198.15L165.99 196.51L166.88 194.87L167.77 193.24L168.67 191.61L169.57 189.98L170.47 188.35L171.38 186.72L172.29 185.1L173.21 183.48L174.13 181.86L175.06 180.24L175.99 178.63L176.93 177.02L177.87 175.42L178.82 173.82L179.78 172.22L180.74 170.63L181.71 169.04L182.68 167.46L183.66 165.88L184.65 164.3L185.64 162.73L186.64 161.17L187.65 159.61L188.67 158.06L189.69 156.51L190.72 154.97L191.76 153.44L192.81 151.91L193.87 150.38L194.93 148.87L196 147.36L197.08 145.86L198.17 144.37L199.27 142.88L200.38 141.4L201.5 139.93L202.63 138.47L203.77 137.01L204.92 135.57L206.07 134.13L207.24 132.7L208.42 131.28L209.61 129.87L210.81 128.47L212.02 127.08L213.24 125.69L214.48 124.32L215.72 122.96L216.98 121.61L218.25 120.26L219.53 118.93L220.82 117.61L222.12 116.3L223.44 115L224.76 113.71L226.1 112.43L227.44 111.17L228.8 109.91L230.17 108.67L231.55 107.43L232.93 106.21L234.33 105L235.74 103.8L237.16 102.61L238.59 101.43L240.03 100.27L241.47 99.12L242.93 97.98L244.4 96.85L245.87 95.73L247.36 94.62L248.85 93.53L250.36 92.45L251.87 91.38L253.39 90.33L254.92 89.28L256.45 88.25L258 87.24L259.55 86.23L261.12 85.24L262.69 84.26L264.26 83.3L265.85 82.34L267.44 81.4L269.04 80.48L270.65 79.57L272.27 78.67L273.89 77.78L275.52 76.91L277.16 76.05L278.8 75.21L280.45 74.38L282.11 73.56L283.78 72.76L285.45 71.97L287.12 71.2L288.8 70.44L290.49 69.69L292.19 68.96L293.89 68.23L295.59 67.53L297.31 66.83L299.02 66.15L300.75 65.49L302.47 64.83L304.21 64.19L305.94 63.56L307.69 62.94L309.43 62.33L311.19 61.74L312.94 61.16L314.7 60.59L316.47 60.03L318.24 59.48L320.01 58.95L321.79 58.43L323.57 57.91L325.35 57.41L327.14 56.92L328.93 56.44L330.73 55.98L332.53 55.52L334.33 55.07L336.13 54.64L337.94 54.21L339.75 53.79L341.56 53.39L343.38 52.99L345.19 52.6L347.01 52.23L348.83 51.86L350.66 51.5L352.48 51.15L354.31 50.81L356.14 50.48L357.97 50.16L359.8 49.85L361.63 49.54L363.47 49.25L365.3 48.96L367.14 48.68L368.98 48.41L370.82 48.15L372.65 47.9L374.49 47.65L376.33 47.41L378.17 47.18L380.01 46.96L381.85 46.74L383.69 46.53L385.53 46.33L387.37 46.13L389.21 45.94L391.04 45.76L392.88 45.59L394.72 45.42L396.55 45.26L398.39 45.1L400.22 44.95L402.05 44.81L403.88 44.67L405.71 44.54L407.54 44.41L409.36 44.29L411.19 44.17L413.01 44.06L414.83 43.96L416.64 43.86" stroke="#ff0000" stroke-width="2.4" fill="none" stroke-linejoin="round"/>
</g>
<text class="b" x="51.5" y="368.7" font-size="16.6" text-anchor="end" fill="#00b050" stroke="#00b050" stroke-width="0.3">300</text>
<text class="b" x="51.5" y="333.56" font-size="16.6" text-anchor="end" fill="#00b050" stroke="#00b050" stroke-width="0.3">305</text>
<text class="b" x="51.5" y="298.42" font-size="16.6" text-anchor="end" fill="#00b050" stroke="#00b050" stroke-width="0.3">310</text>
<text class="b" x="51.5" y="263.28" font-size="16.6" text-anchor="end" fill="#00b050" stroke="#00b050" stroke-width="0.3">315</text>
<text class="b" x="51.5" y="228.14" font-size="16.6" text-anchor="end" fill="#00b050" stroke="#00b050" stroke-width="0.3">320</text>
<text class="b" x="51.5" y="193" font-size="16.6" text-anchor="end" fill="#00b050" stroke="#00b050" stroke-width="0.3">325</text>
<text class="b" x="51.5" y="157.86" font-size="16.6" text-anchor="end" fill="#00b050" stroke="#00b050" stroke-width="0.3">330</text>
<text class="b" x="51.5" y="122.72" font-size="16.6" text-anchor="end" fill="#00b050" stroke="#00b050" stroke-width="0.3">335</text>
<text class="b" x="51.5" y="87.58" font-size="16.6" text-anchor="end" fill="#00b050" stroke="#00b050" stroke-width="0.3">340</text>
<text class="b" x="51.5" y="52.44" font-size="16.6" text-anchor="end" fill="#00b050" stroke="#00b050" stroke-width="0.3">345</text>
<text class="b" x="51.5" y="17.3" font-size="16.6" text-anchor="end" fill="#00b050" stroke="#00b050" stroke-width="0.3">350</text>
<text class="b" x="499.8" y="368.9" font-size="16" fill="#ff0000" stroke="#ff0000" stroke-width="0.3">280</text>
<text class="b" x="499.8" y="329.86" font-size="16" fill="#ff0000" stroke="#ff0000" stroke-width="0.3">290</text>
<text class="b" x="499.8" y="290.81" font-size="16" fill="#ff0000" stroke="#ff0000" stroke-width="0.3">300</text>
<text class="b" x="499.8" y="251.77" font-size="16" fill="#ff0000" stroke="#ff0000" stroke-width="0.3">310</text>
<text class="b" x="499.8" y="212.72" font-size="16" fill="#ff0000" stroke="#ff0000" stroke-width="0.3">320</text>
<text class="b" x="499.8" y="173.68" font-size="16" fill="#ff0000" stroke="#ff0000" stroke-width="0.3">330</text>
<text class="b" x="499.8" y="134.63" font-size="16" fill="#ff0000" stroke="#ff0000" stroke-width="0.3">340</text>
<text class="b" x="499.8" y="95.59" font-size="16" fill="#ff0000" stroke="#ff0000" stroke-width="0.3">350</text>
<text class="b" x="499.8" y="56.54" font-size="16" fill="#ff0000" stroke="#ff0000" stroke-width="0.3">360</text>
<text class="b" x="499.8" y="17.5" font-size="16" fill="#ff0000" stroke="#ff0000" stroke-width="0.3">370</text>
<text class="b" x="65.6" y="389.0" font-size="16.4" text-anchor="middle" fill="#111" stroke="#111" stroke-width="0.3">0</text>
<text class="b" x="135.86" y="389.0" font-size="16.4" text-anchor="middle" fill="#111" stroke="#111" stroke-width="0.3">200</text>
<text class="b" x="206.12" y="389.0" font-size="16.4" text-anchor="middle" fill="#111" stroke="#111" stroke-width="0.3">400</text>
<text class="b" x="276.38" y="389.0" font-size="16.4" text-anchor="middle" fill="#111" stroke="#111" stroke-width="0.3">600</text>
<text class="b" x="346.64" y="389.0" font-size="16.4" text-anchor="middle" fill="#111" stroke="#111" stroke-width="0.3">800</text>
<text class="b" x="416.9" y="389.0" font-size="16.4" text-anchor="middle" fill="#111" stroke="#111" stroke-width="0.3">1000</text>
<text class="b" x="487.16" y="389.0" font-size="16.4" text-anchor="middle" fill="#111" stroke="#111" stroke-width="0.3">1200</text>
<text class="b" x="274.1" y="406.4" font-size="16.3" text-anchor="middle" fill="#111" stroke="#111" stroke-width="0.3">Time(s)</text>
<text class="b" transform="translate(20,190) rotate(-90)" font-size="17.2" text-anchor="middle" fill="#00b050" stroke="#00b050" stroke-width="0.25">Average Absorption Bed Tempearture(K)</text>
<text class="b" transform="translate(541.5,187.7) rotate(-90)" font-size="15.3" text-anchor="middle" fill="#ff0000" stroke="#ff0000" stroke-width="0.25">Average Desorption Bed Tempearture(K)</text>
<g fill="#1a1a1a" stroke="#1a1a1a" stroke-width="0.35" font-size="14.6">
<text x="75.5" y="30">Discharge pressure 1 bar (gauge)</text>
<text x="75.5" y="46.2">h=1515 W/m<tspan font-size="8.5" dy="-5">2</tspan><tspan dy="5">K</tspan></text>
<text x="75.5" y="63">MmNi</text><text x="117.4" y="63">Al</text>
<text x="110.8" y="70.5" font-size="10">4.6</text><text x="129" y="70.5" font-size="10">0.4</text>
<text x="335.5" y="240.2">Supply pressure 20 bar</text>
<text x="335.5" y="256.1">h=1515 W/m<tspan font-size="8.5" dy="-5">2</tspan><tspan dy="5">K</tspan></text>
<text x="335.5" y="273.4">0.5 kg MmNi</text><text x="421.6" y="273.4">Al</text>
<text x="413.3" y="279.8" font-size="10">4.6</text><text x="433.6" y="279.8" font-size="10">0.4</text>
</g>
<text class="b" x="285.3" y="113.4" font-size="16" fill="#ff0000" stroke="#ff0000" stroke-width="0.3">Desorption</text>
<text class="b" x="288.5" y="220.3" font-size="16" fill="#00b050" stroke="#00b050" stroke-width="0.3">Absorption</text>
<path d="M313.5 100.5L284.42 75.63" stroke="#111" stroke-width="1.6"/>
<path d="M281 72.7L286.8 74.38L283.55 78.17Z" fill="#111"/>
<path d="M313.5 100.5L304.25 71.09" stroke="#111" stroke-width="1.6"/>
<path d="M302.9 66.8L306.94 71.3L302.17 72.8Z" fill="#111"/>
<path d="M313.5 100.5L315.9 78.87" stroke="#111" stroke-width="1.6"/>
<path d="M316.4 74.4L318.28 80.14L313.31 79.59Z" fill="#111"/>
<path d="M318.9 222.6L284.04 260.58" stroke="#111" stroke-width="1.6"/>
<path d="M281 263.9L282.88 258.16L286.56 261.54Z" fill="#111"/>
<path d="M318.9 222.6L299.51 269.84" stroke="#111" stroke-width="1.6"/>
<path d="M297.8 274L297.58 267.96L302.2 269.86Z" fill="#111"/>
<path d="M318.9 222.6L319.36 268.7" stroke="#111" stroke-width="1.6"/>
<path d="M319.4 273.2L316.85 267.72L321.85 267.68Z" fill="#111"/>
<g stroke-width="2.6" fill="none">
<path d="M92.9 331.9H113.6" stroke="#00a844"/>
<path d="M92.9 348.1H113.6" stroke="#ff0000"/>
<path d="M221.1 331.9H232.6M239.4 331.9H243.4" stroke="#00a844"/>
<path d="M221.1 348.1H232.6M239.4 348.1H244.2" stroke="#ff0000"/>
<path d="M350.9 331.9H360.5" stroke="#00a844"/>
<path d="M350.9 348.1H360.5" stroke="#ff0000"/>
</g>
<g fill="#1a1a1a" stroke="#1a1a1a" stroke-width="0.35" font-size="13.2">
<text x="115.6" y="335.8">Transverse 298K</text>
<text x="115.6" y="351.6">Longitudinal 363K</text>
<text x="248.6" y="334.4">Transverse 298K</text>
<text x="248.6" y="349.9">Transverse 363K</text>
<text x="363.7" y="334.4">Spiral 298K</text>
<text x="363.7" y="349.9">Spiral 363K</text>
</g>
</svg></body></html>
